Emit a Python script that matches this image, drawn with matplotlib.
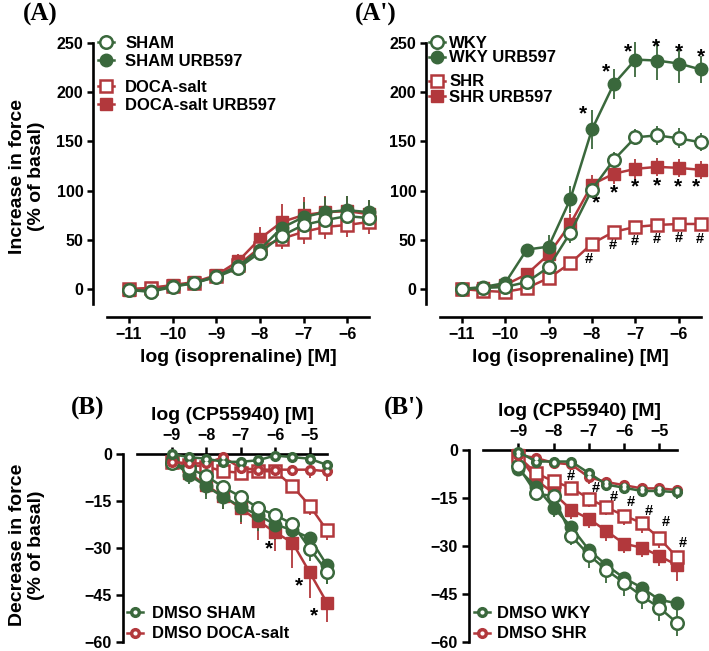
import matplotlib
matplotlib.use("Agg")
import matplotlib.pyplot as plt
from matplotlib.legend import Legend
from matplotlib.lines import Line2D
import numpy as np

plt.rcParams['font.family'] = ['Liberation Sans', 'DejaVu Sans']
plt.rcParams['font.weight'] = 'bold'

GREEN = '#3a683c'
RED = '#b2383c'

# ---------------- data ----------------
xA = [-11, -10.5, -10, -9.5, -9, -8.5, -8, -7.5, -7, -6.5, -6, -5.5]
sham = [-1, -3, 2, 6, 12, 21, 37, 54, 65, 70, 74, 72]
sham_e = [2, 2, 2, 2, 3, 5, 8, 8, 9, 9, 9, 8]
sham_urb = [-1, -2, 3, 6, 13, 23, 40, 62, 73, 78, 80, 78]
sham_urb_e = [2, 2, 2, 2, 4, 6, 10, 12, 15, 15, 14, 12]
doca = [0, 1, 3, 6, 13, 24, 42, 51, 58, 63, 65, 68]
doca_e = [2, 2, 2, 2, 3, 5, 8, 10, 12, 12, 12, 12]
doca_urb = [-1, 1, 4, 7, 14, 28, 51, 68, 75, 78, 79, 76]
doca_urb_e = [2, 2, 2, 3, 4, 7, 12, 18, 18, 16, 15, 14]

wky = [0, 1, 2, 7, 22, 57, 101, 131, 154, 156, 153, 149]
wky_e = [2, 2, 3, 3, 6, 10, 8, 8, 8, 10, 10, 9]
wky_urb = [0, 2, 6, 40, 43, 91, 162, 208, 233, 232, 229, 223]
wky_urb_e = [2, 3, 4, 6, 12, 14, 20, 15, 18, 20, 20, 14]
shr = [0, -2, -3, 1, 11, 26, 46, 58, 63, 65, 66, 66]
shr_e = [2, 2, 2, 3, 4, 5, 5, 5, 5, 5, 5, 5]
shr_urb = [0, 1, 4, 15, 35, 66, 106, 117, 122, 124, 123, 121]
shr_urb_e = [2, 2, 3, 5, 8, 10, 10, 10, 10, 9, 9, 9]

xB = [-9, -8.5, -8, -7.5, -7, -6.5, -6, -5.5, -5, -4.5]
dmso_sham = [0, -1, -1.5, -2.5, -2.5, -2, -0.5, -1, -1.5, -3.5]
dmso_sham_e = [1, 1, 1.5, 1.5, 1.5, 1.5, 1.5, 1.5, 1.5, 2]
dmso_doca = [-2.5, -3, -3, -1, -4.5, -5, -5, -5, -5, -5.5]
dmso_doca_e = [1, 1, 1.5, 1.5, 2, 2, 2, 2, 2.5, 3]
shamB = [-3, -4.5, -7, -10.6, -13.6, -17.2, -19.5, -22.3, -30.2, -37.5]
shamB_e = [1, 2, 3, 3, 3, 3, 3, 3, 4, 4]
shamB_urb = [-2, -6.6, -10.3, -13.7, -16.8, -19.5, -22.5, -24.3, -26.8, -35.5]
shamB_urb_e = [1, 3, 4, 4, 5, 5, 5, 5, 6, 6]
docaB = [-2.5, -3.5, -4, -5.5, -6, -5.5, -5.5, -10.3, -16.5, -24.4]
docaB_e = [1, 1, 1.5, 1.5, 2, 2, 2, 2, 3, 3]
docaB_urb = [-2.5, -6, -10, -13.5, -17.3, -21.3, -25, -28.3, -37.8, -47.5]
docaB_urb_e = [1, 2, 3, 4, 5, 6, 6, 8, 8, 6]

dmso_wky = [-0.5, -3.6, -3.6, -3.6, -7.2, -10.8, -11.8, -12.8, -12.8, -13.2]
dmso_wky_e = [1, 1.5, 1.5, 1.5, 2, 2, 2, 2, 2, 2]
dmso_shr = [-1.5, -2.5, -4, -4.5, -8.5, -10, -11, -12, -12, -12.5]
dmso_shr_e = [1, 1.5, 1.5, 1.5, 2, 2, 2, 2, 2, 2]
wkyB = [-5.1, -13.5, -14.5, -26.8, -32.8, -37.5, -41.5, -45.6, -49.3, -54]
wkyB_e = [1.5, 2, 3, 3, 4, 4, 4, 4, 4, 4]
wkyB_urb = [-6, -11.5, -18, -24, -31.2, -36, -40, -43, -46.8, -47.9]
wkyB_urb_e = [1.5, 3, 3, 4, 4, 4, 4, 4, 4, 4]
shrB = [-2, -7.2, -9.8, -11.8, -15.2, -17.9, -20.5, -22.8, -27.6, -33.5]
shrB_e = [1.5, 2, 2, 2, 2.5, 2.5, 3, 3, 3, 4]
shrB_urb = [-1.5, -9.3, -13.5, -18.7, -21.5, -25.3, -29.3, -30.5, -33.1, -36]
shrB_urb_e = [1.5, 2, 3, 3, 3, 3, 3, 3, 3, 5]

xA_ticks = [-11, -10, -9, -8, -7, -6]
yA_ticks = [0, 50, 100, 150, 200, 250]
xB_ticks = [-9, -8, -7, -6, -5]
yB_ticks = [0, -15, -30, -45, -60]

starsA2_hi_x = [-8.21, -7.67, -7.17, -6.53, -6.0, -5.5]
starsA2_hi_y = [178, 220, 241, 246, 241, 236]
starsA2_lo_x = [-7.91, -7.5, -7.0, -6.5, -6.02, -5.6]
starsA2_lo_y = [87, 98, 104, 105, 104, 104]
hashA2_x = [-8.07, -7.53, -7.01, -6.51, -6.0, -5.52]
hashA2_y = [30, 45, 49, 51, 52, 51]
starsB_x = [-6.18, -5.3, -4.87]
starsB_y = [-30.3, -42.1, -51.8]
hashB2_x = [-7.51, -6.8, -6.3, -5.8, -5.31, -4.81, -4.33]
hashB2_y = [-8.2, -12.0, -14.6, -16.4, -19.0, -22.6, -29.2]

# ---------------- figure ----------------
W, H = 709, 651
fig = plt.figure(figsize=(W / 100, H / 100), dpi=100)


def px_axes(left, top, right, bottom):
    return fig.add_axes([left / W, 1 - bottom / H, (right - left) / W, (bottom - top) / H])


STY = {
    'oc': dict(marker='o', mfc='white', ms=9, mew=1.8),
    'fc': dict(marker='o', ms=9, mew=1.0),
    'os': dict(marker='s', mfc='white', ms=8.5, mew=1.8),
    'fs': dict(marker='s', ms=8.5, mew=1.0),
    'dm': dict(marker='o', ms=7, mew=1.0),
}


def series(ax, x, y, e, color, kind, direction='both', z=3):
    y = np.asarray(y, float)
    e = np.asarray(e, float)
    if direction == 'down':
        yerr = [e, np.zeros_like(e)]
    else:
        yerr = e
    st = dict(STY[kind])
    if 'mfc' not in st:
        st['mfc'] = color
    c = ax.errorbar(x, y, yerr=yerr, color=color, lw=1.8, mec=color,
                    elinewidth=1.3, capsize=0, zorder=z, **st)
    for a in c.get_children():
        a.set_clip_on(False)
    c.lines[0].set_clip_on(False)
    handle = Line2D([], [], color=color, lw=1.8, mec=color, **st)
    if kind == 'dm':
        ax.plot(x, y, ls='none', marker='o', ms=2, mfc='white', mec='white',
                zorder=z + 0.5, clip_on=False)
        dot = Line2D([], [], ls='none', marker='o', ms=2, mfc='white', mec='white')
        handle = (handle, dot)
    return handle


def entry(ax, handle, label, xm, yc, pad):
    hl = 1.0
    fs = 12
    em = fs * 100 / 72
    left = xm - hl * em / 2
    lg = Legend(ax, [handle], [label], loc='center left',
                bbox_to_anchor=(left / W, 1 - yc / H), bbox_transform=fig.transFigure,
                frameon=False, handlelength=hl, handletextpad=pad / em,
                borderpad=0, borderaxespad=0, fontsize=fs, numpoints=1)
    for t in lg.get_texts():
        t.set_fontweight('bold')
    lg.set_zorder(10)
    ax.add_artist(lg)


def style_A(ax):
    ax.set_xlim(-11.5, -5.5)
    ax.set_ylim(-28.5, 260)
    for s in ['top', 'right']:
        ax.spines[s].set_visible(False)
    ax.spines['left'].set_position(('outward', 14 * 0.72))
    ax.spines['left'].set_bounds(-15, 250)
    for s in ['left', 'bottom']:
        ax.spines[s].set_linewidth(1.9)
    ax.set_xticks(xA_ticks)
    ax.set_yticks(yA_ticks)
    ax.tick_params(width=1.8, length=4, labelsize=11.5, pad=3)
    for t in ax.get_xticklabels() + ax.get_yticklabels():
        t.set_fontweight('bold')
    ax.set_xlabel('log (isoprenaline) [M]', fontsize=14, fontweight='bold', labelpad=5)
    ax.patch.set_visible(False)


def style_B(ax):
    ax.set_xlim(-10, -4.5)
    ax.set_ylim(-60, 0)
    for s in ['bottom', 'right']:
        ax.spines[s].set_visible(False)
    ax.spines['left'].set_position(('outward', 14 * 0.72))
    for s in ['left', 'top']:
        ax.spines[s].set_linewidth(1.9)
    ax.xaxis.tick_top()
    ax.xaxis.set_label_position('top')
    ax.set_xticks(xB_ticks)
    ax.set_yticks(yB_ticks)
    ax.tick_params(width=1.8, length=5, labelsize=11.5, pad=3)
    for t in ax.get_xticklabels() + ax.get_yticklabels():
        t.set_fontweight('bold')
    ax.set_xlabel('log (CP55940) [M]', fontsize=14, fontweight='bold', labelpad=6)
    ax.patch.set_visible(False)


# ---------- Panel A ----------
axA = px_axes(107, 33, 369, 317)
style_A(axA)
hA1 = series(axA, xA, doca_urb, doca_urb_e, RED, 'fs')
hA2 = series(axA, xA, doca, doca_e, RED, 'os')
hA3 = series(axA, xA, sham_urb, sham_urb_e, GREEN, 'fc')
hA4 = series(axA, xA, sham, sham_e, GREEN, 'oc')
entry(axA, hA4, 'SHAM', 106, 43, 11)
entry(axA, hA3, 'SHAM URB597', 106, 61, 11)
entry(axA, hA2, 'DOCA-salt', 106, 87, 11)
entry(axA, hA1, 'DOCA-salt URB597', 106, 105, 11)

# ---------- Panel A' ----------
axA2 = px_axes(440, 33, 700.5, 317)
style_A(axA2)
h1 = series(axA2, xA, shr_urb, shr_urb_e, RED, 'fs')
h2 = series(axA2, xA, shr, shr_e, RED, 'os')
h3 = series(axA2, xA, wky_urb, wky_urb_e, GREEN, 'fc')
h4 = series(axA2, xA, wky, wky_e, GREEN, 'oc')
entry(axA2, h4, 'WKY', 437, 43, 4)
entry(axA2, h3, 'WKY URB597', 437, 58, 4)
entry(axA2, h2, 'SHR', 437, 82, 4)
entry(axA2, h1, 'SHR URB597', 437, 97, 4)
for x, y in zip(starsA2_hi_x + starsA2_lo_x, starsA2_hi_y + starsA2_lo_y):
    axA2.text(x, y, '*', ha='center', va='center', fontsize=15, fontweight='bold', clip_on=False)
for x, y in zip(hashA2_x, hashA2_y):
    axA2.text(x, y, '#', ha='center', va='center', fontsize=10.5, fontweight='bold', clip_on=False)

# ---------- Panel B ----------
axB = px_axes(137, 454, 327, 642)
style_B(axB)
series(axB, xB, docaB_urb, docaB_urb_e, RED, 'fs', 'down')
series(axB, xB, docaB, docaB_e, RED, 'os', 'down')
series(axB, xB, shamB_urb, shamB_urb_e, GREEN, 'fc', 'down')
series(axB, xB, shamB, shamB_e, GREEN, 'oc', 'down')
hb2 = series(axB, xB, dmso_doca, dmso_doca_e, RED, 'dm', 'down', z=4)
hb1 = series(axB, xB, dmso_sham, dmso_sham_e, GREEN, 'dm', 'down', z=4)
entry(axB, hb1, 'DMSO SHAM', 135, 613, 9)
entry(axB, hb2, 'DMSO DOCA-salt', 135, 634, 9)
for x, y in zip(starsB_x, starsB_y):
    axB.text(x, y, '*', ha='center', va='center', fontsize=15, fontweight='bold', clip_on=False)

# ---------- Panel B' ----------
axB2 = px_axes(483, 450, 677, 642)
style_B(axB2)
series(axB2, xB, shrB_urb, shrB_urb_e, RED, 'fs', 'down')
series(axB2, xB, shrB, shrB_e, RED, 'os', 'down')
series(axB2, xB, wkyB_urb, wkyB_urb_e, GREEN, 'fc', 'down')
series(axB2, xB, wkyB, wkyB_e, GREEN, 'oc', 'down')
hc2 = series(axB2, xB, dmso_shr, dmso_shr_e, RED, 'dm', 'down', z=4)
hc1 = series(axB2, xB, dmso_wky, dmso_wky_e, GREEN, 'dm', 'down', z=4)
entry(axB2, hc1, 'DMSO WKY', 482, 613, 7)
entry(axB2, hc2, 'DMSO SHR', 482, 634, 7)
for x, y in zip(hashB2_x, hashB2_y):
    axB2.text(x, y, '#', ha='center', va='center', fontsize=10.5, fontweight='bold', clip_on=False)

# ---------- y labels ----------
fig.text(27 / W, 1 - 176 / H, 'Increase in force\n(% of basal)', rotation=90,
         ha='center', va='center', fontsize=14, fontweight='bold', linespacing=1.1,
         multialignment='center')
fig.text(27 / W, 1 - 545 / H, 'Decrease in force\n(% of basal)', rotation=90,
         ha='center', va='center', fontsize=14, fontweight='bold', linespacing=1.1,
         multialignment='center')

# ---------- panel labels ----------
serif = ['Liberation Serif', 'DejaVu Serif']
fig.text(40 / W, 1 - 14 / H, '(A)', ha='center', va='center', fontsize=18,
         fontweight='bold', family=serif)
fig.text(376 / W, 1 - 14 / H, "(A')", ha='center', va='center', fontsize=18,
         fontweight='bold', family=serif)
fig.text(88 / W, 1 - 408 / H, '(B)', ha='center', va='center', fontsize=18,
         fontweight='bold', family=serif)
fig.text(404 / W, 1 - 408 / H, "(B')", ha='center', va='center', fontsize=18,
         fontweight='bold', family=serif)

fig.savefig('out.png', dpi=100)
